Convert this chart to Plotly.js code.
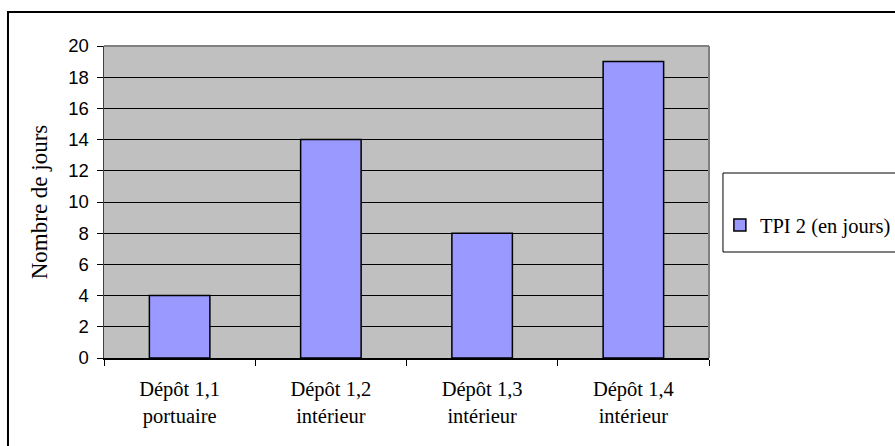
<!DOCTYPE html>
<html>
<head>
<meta charset="utf-8">
<script src="https://cdn.plot.ly/plotly-3.0.1.min.js"></script>
<style>html,body{margin:0;padding:0;background:#fff;}#chart{width:895px;height:446px;}</style>
</head>
<body>
<div id="chart"></div>
<script>
var categories = ["Dépôt 1,1<br>portuaire", "Dépôt 1,2<br>intérieur", "Dépôt 1,3<br>intérieur", "Dépôt 1,4<br>intérieur"];
var tpiValues = [4, 14, 8, 19];
var seriesName = "TPI 2 (en jours)";
var yTicks = [0, 2, 4, 6, 8, 10, 12, 14, 16, 18, 20];
var yTitle = "Nombre de jours";

var serif = "'Liberation Serif', 'Times New Roman', serif";
var sans = "'Liberation Sans', Arial, sans-serif";

var trace = {
  type: "bar",
  x: categories,
  y: tpiValues,
  name: seriesName,
  marker: {color: "#9999FF", line: {color: "#000000", width: 1.5}},
  showlegend: true
};

var layout = {
  width: 895, height: 446,
  margin: {l: 104, r: 186, t: 46, b: 88, pad: 0, autoexpand: false},
  paper_bgcolor: "#FFFFFF",
  plot_bgcolor: "#C0C0C0",
  bargap: 0.6,
  showlegend: true,
  legend: {
    x: 1.018, y: 0.426, xanchor: "left", yanchor: "middle",
    bgcolor: "rgba(0,0,0,0)", borderwidth: 0,
    itemwidth: 30,
    font: {family: serif, size: 20.5, color: "#000"}
  },
  xaxis: {
    type: "category",
    tickson: "boundaries",
    ticks: "outside", ticklen: 6, tickcolor: "#000", tickwidth: 1,
    ticklabelstandoff: 12,
    showgrid: false,
    showline: true, linecolor: "#000", linewidth: 1.5,
    tickfont: {family: serif, size: 20.5, color: "#000"},
    fixedrange: true
  },
  yaxis: {
    range: [0, 20],
    tickvals: yTicks,
    ticks: "outside", ticklen: 6, tickcolor: "#000", tickwidth: 1,
    ticklabelstandoff: 4,
    showgrid: true, gridcolor: "#000", gridwidth: 1,
    zeroline: false,
    showline: true, linecolor: "#404040", linewidth: 1.5,
    tickfont: {family: sans, size: 18.5, color: "#000"},
    title: {text: yTitle, font: {family: serif, size: 23, color: "#000"}, standoff: 14},
    fixedrange: true
  },
  shapes: [
    {type: "rect", xref: "paper", yref: "paper", x0: -0.1587, x1: 2, y0: -1, y1: 1.1090,
     line: {color: "#000", width: 2}, fillcolor: "rgba(0,0,0,0)", layer: "below"},
    {type: "line", xref: "paper", yref: "paper", x0: 0, x1: 1, y0: 1, y1: 1,
     line: {color: "#808080", width: 2}},
    {type: "line", xref: "paper", yref: "paper", x0: 1, x1: 1, y0: 0, y1: 1,
     line: {color: "#808080", width: 2}},
    {type: "rect", xref: "paper", yref: "paper", x0: 1.0231, x1: 1.6, y0: 0.3397, y1: 0.5929,
     line: {color: "#000", width: 1}, fillcolor: "rgba(0,0,0,0)"}
  ]
};

Plotly.newPlot("chart", [trace], layout, {staticPlot: true, displayModeBar: false});
</script>
</body>
</html>
